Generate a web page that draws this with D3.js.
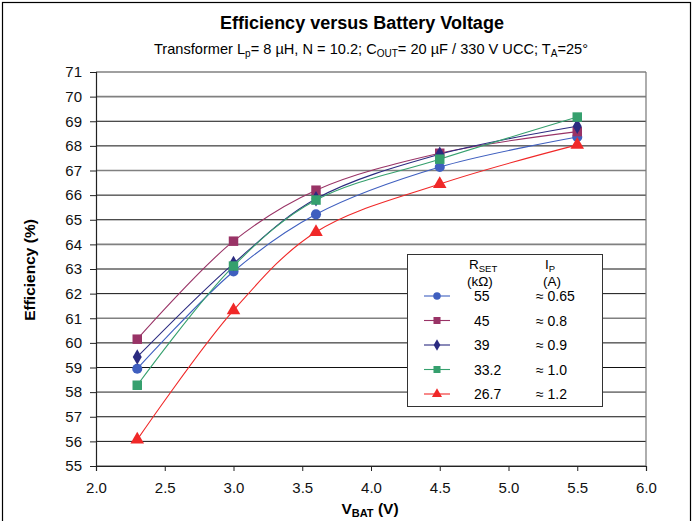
<!DOCTYPE html>
<html>
<head>
<meta charset="utf-8">
<script src="https://cdn.jsdelivr.net/npm/d3@7"></script>
<style>
  body { margin: 0; background: #fff; }
  svg { font-family: "Liberation Sans", Arial, sans-serif; }
</style>
</head>
<body>
<svg id="chart" width="694" height="521"></svg>
<script>
const vbat = [2.3, 3.0, 3.6, 4.5, 5.5];
const rset = ["55", "45", "39", "33.2", "26.7"];
const ipk = ["≈ 0.65", "≈ 0.8", "≈ 0.9", "≈ 1.0", "≈ 1.2"];
const eff55 = [58.95, 62.9, 65.22, 67.14, 68.36];
const eff45 = [60.15, 64.13, 66.2, 67.7, 68.58];
const eff39 = [59.43, 63.22, 65.85, 67.66, 68.8];
const eff33 = [58.28, 63.12, 65.8, 67.46, 69.17];
const eff27 = [56.07, 61.32, 64.5, 66.45, 68.04];
const xTicks = [2.0, 2.5, 3.0, 3.5, 4.0, 4.5, 5.0, 5.5, 6.0];
const yTicks = d3.range(55, 72);

const series = [
  { values: eff55, color: "#3f5fbf", shape: d3.symbolCircle, size: 80 },
  { values: eff45, color: "#993366", shape: d3.symbolSquare, size: 90 },
  { values: eff39, color: "#2b2b80", shape: d3.symbolDiamond, size: 70 },
  { values: eff33, color: "#36a06e", shape: d3.symbolSquare, size: 90 },
  { values: eff27, color: "#f02828", shape: d3.symbolTriangle, size: 80 }
];

const svg = d3.select("#chart");
const x = d3.scaleLinear().domain([2, 6]).range([96, 646]);
const y = d3.scaleLinear().domain([55, 71]).range([466, 72]);

// outer frame
svg.append("rect").attr("x", 2.5).attr("y", 2.5).attr("width", 688).attr("height", 540)
  .attr("fill", "none").attr("stroke", "#000").attr("stroke-width", 1.2);

// grid (every third line looks lighter/thicker in the scan)
const soft = d => (d - 55) % 3 === 0 || d === 71;
svg.append("g").selectAll("line").data(yTicks).join("line")
  .attr("x1", 96).attr("x2", 646)
  .attr("y1", d => y(d)).attr("y2", d => y(d))
  .attr("stroke", d => soft(d) ? "#808080" : "#111")
  .attr("stroke-width", d => soft(d) ? 1.6 : 1);

// right border
svg.append("line").attr("x1", 646).attr("x2", 646).attr("y1", 72).attr("y2", 466)
  .attr("stroke", "#777").attr("stroke-width", 1.2);

const yAxis = svg.append("g").attr("transform", "translate(96,0)")
  .call(d3.axisLeft(y).tickValues(yTicks).tickSize(6).tickPadding(8).tickFormat(d3.format("d")));
const xAxis = svg.append("g").attr("transform", "translate(0,466)")
  .call(d3.axisBottom(x).tickValues(xTicks).tickSize(5).tickPadding(11).tickFormat(d3.format(".1f")));
[yAxis, xAxis].forEach(a => {
  a.select(".domain").attr("stroke", "#222").attr("stroke-width", 1.2);
  a.selectAll(".tick line").attr("stroke", "#222");
  a.selectAll("text").attr("font-size", 15).attr("fill", "#111")
    .attr("font-family", "Liberation Sans, Arial, sans-serif");
});

// curves
const line = d3.line()
  .x((d, i) => x(vbat[i]))
  .y(d => y(d))
  .curve(d3.curveCatmullRom.alpha(0.5));

series.forEach(s => {
  svg.append("path").attr("d", line(s.values))
    .attr("fill", "none").attr("stroke", s.color).attr("stroke-width", 1.1);
});
series.forEach(s => {
  svg.append("g").selectAll("path").data(s.values).join("path")
    .attr("transform", (d, i) => `translate(${x(vbat[i])},${y(d)})`)
    .attr("d", d3.symbol().type(s.shape).size(s.size))
    .attr("fill", s.color);
});

// titles
svg.append("text").attr("x", 362).attr("y", 29).attr("text-anchor", "middle")
  .attr("font-size", 18).attr("font-weight", "bold").text("Efficiency versus Battery Voltage");

const sub = svg.append("text").attr("x", 371).attr("y", 54).attr("text-anchor", "middle")
  .attr("font-size", 14.6);
sub.append("tspan").text("Transformer L");
sub.append("tspan").attr("font-size", 10).attr("dy", 3).text("p");
sub.append("tspan").attr("dy", -3).text("= 8 µH, N = 10.2; C");
sub.append("tspan").attr("font-size", 10).attr("dy", 3).text("OUT");
sub.append("tspan").attr("dy", -3).text("= 20 µF / 330 V UCC; T");
sub.append("tspan").attr("font-size", 10).attr("dy", 3).text("A");
sub.append("tspan").attr("dy", -3).text("=25°");

svg.append("text").attr("transform", "translate(35,270) rotate(-90)")
  .attr("text-anchor", "middle").attr("font-size", 15.5).attr("font-weight", "bold")
  .text("Efficiency (%)");

const xl = svg.append("text").attr("x", 370).attr("y", 514).attr("text-anchor", "middle")
  .attr("font-size", 15.5).attr("font-weight", "bold");
xl.append("tspan").text("V");
xl.append("tspan").attr("font-size", 11).attr("dy", 3).text("BAT");
xl.append("tspan").attr("dy", -3).text(" (V)");

// legend
const lg = svg.append("g").attr("transform", "translate(407,254)");
lg.append("rect").attr("x", 0.5).attr("y", 0.5).attr("width", 195).attr("height", 152)
  .attr("fill", "#fff").attr("stroke", "#333").attr("stroke-width", 1);

const h1 = lg.append("text").attr("x", 62).attr("y", 15).attr("font-size", 13.5);
h1.append("tspan").text("R");
h1.append("tspan").attr("font-size", 9.5).attr("dy", 2.5).text("SET");
lg.append("text").attr("x", 60).attr("y", 32).attr("font-size", 13.5).text("(kΩ)");
const h2 = lg.append("text").attr("x", 138).attr("y", 15).attr("font-size", 13.5);
h2.append("tspan").text("I");
h2.append("tspan").attr("font-size", 9.5).attr("dy", 2.5).text("P");
lg.append("text").attr("x", 136).attr("y", 32).attr("font-size", 13.5).text("(A)");

series.forEach((s, i) => {
  const ry = 42 + i * 24.5;
  lg.append("line").attr("x1", 17).attr("x2", 43).attr("y1", ry).attr("y2", ry)
    .attr("stroke", s.color).attr("stroke-width", 1.1);
  lg.append("path").attr("transform", `translate(30,${ry})`)
    .attr("d", d3.symbol().type(s.shape).size(s.size * 0.55)).attr("fill", s.color);
  lg.append("text").attr("x", 67).attr("y", ry + 5).attr("font-size", 14).text(rset[i]);
  lg.append("text").attr("x", 129).attr("y", ry + 5).attr("font-size", 14).text(ipk[i]);
});
</script>
</body>
</html>
